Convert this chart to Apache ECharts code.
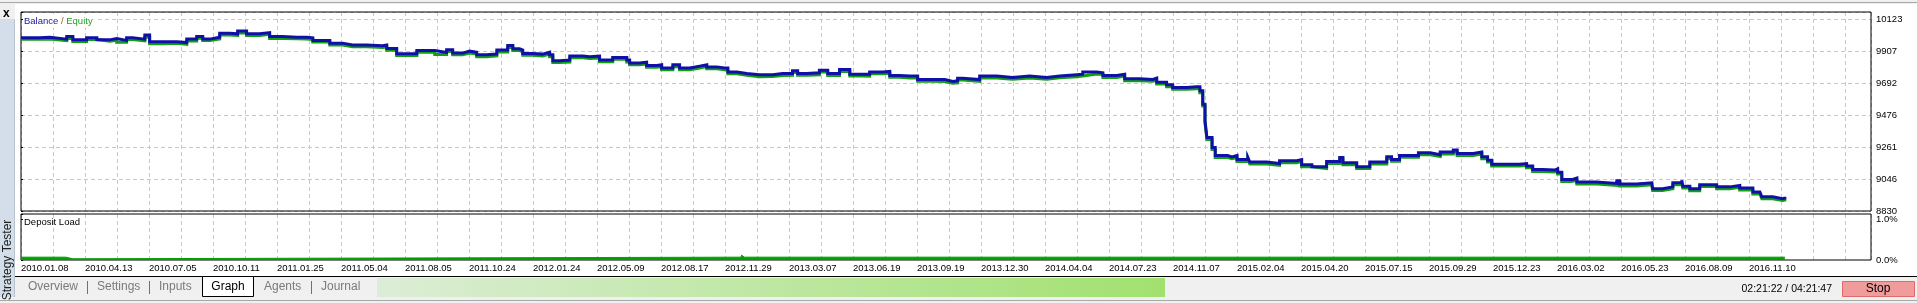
<!DOCTYPE html>
<html><head><meta charset="utf-8">
<script src="https://cdn.jsdelivr.net/npm/echarts@6/dist/echarts.min.js"></script>
<style>html,body{margin:0;padding:0;background:#f0f0f0;overflow:hidden}#c{width:1917px;height:303px}</style>
</head><body><div id="c"></div><script>
const FONT = '"Liberation Sans", Arial, sans-serif';

const dateLabels = ['2010.01.08','2010.04.13','2010.07.05','2010.10.11','2011.01.25','2011.05.04','2011.08.05','2011.10.24',
  '2012.01.24','2012.05.09','2012.08.17','2012.11.29','2013.03.07','2013.06.19','2013.09.19','2013.12.30',
  '2014.04.04','2014.07.23','2014.11.07','2015.02.04','2015.04.20','2015.07.15','2015.09.29','2015.12.23',
  '2016.03.02','2016.05.23','2016.08.09','2016.11.10'];
const yTickLabels = ['8830','9046','9261','9476','9692','9907','10123'];
const loadTickLabels = ['0.0%','1.0%'];

const positions = [
  0.00,0.58,0.90,1.43,1.62,2.05,2.37,2.77,2.99,3.30,
  3.49,3.87,4.02,4.43,4.87,5.18,5.49,5.68,5.90,6.21,
  6.52,6.77,7.05,7.46,7.77,8.18,8.62,8.93,9.12,9.55,
  9.65,10.05,10.36,10.80,11.30,11.43,11.74,12.05,12.37,12.68,
  12.93,13.30,13.49,13.80,14.02,14.24,14.55,14.87,15.21,15.37,
  15.58,15.68,15.99,16.30,16.52,16.62,16.83,17.15,17.56,17.77,
  18.08,18.49,18.93,19.02,19.33,19.55,19.87,20.02,20.37,20.58,
  20.90,21.21,21.43,21.74,21.99,22.09,22.37,22.68,23.08,23.49,
  23.80,24.11,24.27,24.55,24.95,25.21,25.58,25.90,26.30,26.52,
  26.93,27.15,27.46,27.77,28.02,28.49,28.87,29.12,29.27,29.43,
  29.96,30.49,30.99,31.52,32.05,32.46,32.99,33.18,33.62,33.81,
  34.24,34.49,34.96,35.37,35.49,35.80,35.99,36.43,36.74,36.84,
  36.93,37.00,37.06,37.22,37.32,37.71,37.84,38.00,38.34,38.40,
  38.93,39.33,39.87,40.02,40.34,40.80,41.21,41.31,41.74,42.15,
  42.68,42.83,43.08,43.67,44.04,44.35,44.76,44.88,45.38,45.65,
  45.83,45.96,46.30,46.83,47.05,47.24,47.55,47.93,48.02,48.15,
  48.40,48.49,48.62,49.24,49.87,49.96,50.49,50.96,50.99,51.30,
  51.62,51.90,51.93,52.15,52.46,52.99,53.40,53.71,54.02,54.12,
  54.34,54.40,54.74,55.05,55.12];

const balance = [
  10002,10006,9993,10010,9988,10002,9988,9997,9984,10002,
  9993,10020,9975,9975,9970,9993,10010,9993,10006,10033,
  10029,10047,10029,10037,10010,10006,10006,10002,9984,9984,
  9966,9953,9953,9948,9953,9930,9894,9894,9916,9916,
  9903,9921,9899,9912,9904,9887,9892,9919,9950,9928,
  9919,9896,9892,9905,9887,9847,9852,9879,9874,9879,
  9852,9869,9852,9833,9838,9815,9820,9798,9820,9798,
  9811,9820,9806,9798,9798,9771,9761,9753,9753,9761,
  9761,9780,9761,9766,9784,9761,9788,9757,9757,9771,
  9775,9748,9744,9744,9721,9721,9708,9712,9730,9721,
  9744,9734,9744,9734,9744,9753,9757,9771,9766,9748,
  9757,9726,9721,9730,9703,9685,9667,9672,9672,9645,
  9555,9443,9330,9263,9209,9200,9209,9182,9196,9165,
  9155,9174,9182,9147,9133,9169,9196,9160,9133,9165,
  9200,9182,9209,9227,9214,9232,9246,9223,9232,9200,
  9178,9151,9151,9155,9138,9115,9111,9120,9097,9048,
  9048,9057,9030,9021,9039,9017,9025,9025,8985,8998,
  9025,9043,9003,8985,9012,8998,9007,8990,8990,8963,
  8967,8931,8918,8922,8931];

const equity = [
  9992,9994,9983,9998,9977,9991,9978,9986,9972,9990,
  9982,10006,9962,9965,9958,9981,9999,9983,9994,10020,
  10018,10034,10018,10025,9998,9995,9993,9990,9973,9972,
  9954,9941,9942,9936,9940,9918,9882,9883,9904,9905,
  9890,9909,9887,9900,9892,9874,9880,9907,9937,9916,
  9908,9884,9880,9893,9875,9835,9839,9867,9862,9866,
  9840,9857,9839,9821,9826,9803,9808,9786,9807,9786,
  9799,9808,9793,9786,9785,9759,9749,9740,9741,9748,
  9750,9768,9749,9753,9772,9748,9775,9745,9744,9759,
  9763,9736,9731,9732,9709,9708,9696,9699,9718,9709,
  9731,9722,9731,9722,9732,9740,9745,9758,9754,9735,
  9745,9713,9709,9717,9691,9672,9655,9659,9660,9632,
  9542,9430,9317,9250,9195,9188,9196,9169,9184,9152,
  9143,9161,9170,9134,9121,9156,9184,9147,9121,9152,
  9187,9170,9197,9214,9202,9219,9234,9210,9220,9187,
  9166,9138,9139,9142,9126,9102,9099,9107,9085,9035,
  9036,9044,9018,9008,9027,9004,9013,9012,8973,8985,
  9013,9030,8991,8972,9000,8985,8995,8977,8978,8950,
  8955,8918,8906,8909,8919];

const loadPositions = [0, 1.40, 1.41, 1.62, 1.63, 22.50, 22.52, 22.58, 22.60, 55.12];
const depositLoad   = [0.07, 0.07, 0.03, 0.03, 0.07, 0.07, 0.12, 0.12, 0.07, 0.07];

const Y_STEP = 215.5;
const Y_MIN = 41 * Y_STEP;               // 8835.5, multiple of the step
const Y_MAX = Y_MIN + 6 * Y_STEP * 199 / 192;
const X_MAX = 1850 / 32;
const L_MAX = 46 / 40.5;

const dashed = { color: '#c8c8c8', type: [4, 3], width: 1 };

const chart = echarts.init(document.getElementById('c'), null, { renderer: 'canvas', width: 1917, height: 303 });

const option = {
  animation: false,
  textStyle: { fontFamily: FONT },
  grid: [
    { left: 21, top: 12, width: 1850, height: 199, show: true, borderColor: '#000', borderWidth: 1, backgroundColor: 'transparent', z: 1 },
    { left: 21, top: 214, width: 1850, height: 46, show: true, borderColor: '#000', borderWidth: 1, backgroundColor: 'transparent', z: 1 }
  ],
  xAxis: [
    { gridIndex: 0, type: 'value', min: 0, max: X_MAX, interval: 1,
      axisLine: { show: false }, axisTick: { show: false }, axisLabel: { show: false },
      splitLine: { show: true, lineStyle: dashed } },
    { gridIndex: 1, type: 'value', min: 0, max: X_MAX, interval: 1,
      axisLine: { show: false }, axisTick: { show: false },
      axisLabel: { show: true, align: 'left', margin: 3, fontSize: 9.5, color: '#000', fontFamily: FONT,
        showMaxLabel: false,
        formatter: v => (Number.isInteger(v) && v % 2 === 0) ? (dateLabels[v / 2] || '') : '' },
      splitLine: { show: true, lineStyle: dashed } }
  ],
  yAxis: [
    { gridIndex: 0, type: 'value', position: 'right', min: Y_MIN, max: Y_MAX, interval: Y_STEP,
      axisLine: { show: false },
      axisTick: { show: true, length: 2, lineStyle: { color: '#000' } },
      axisLabel: { show: true, margin: 5, fontSize: 9.5, color: '#000', fontFamily: FONT,
        formatter: v => { const i = Math.round((v - Y_MIN) / Y_STEP); return Math.abs(v - (Y_MIN + i * Y_STEP)) < 0.01 ? (yTickLabels[i] || '') : ''; } },
      splitLine: { show: true, lineStyle: dashed } },
    { gridIndex: 1, type: 'value', position: 'right', min: 0, max: L_MAX, interval: 1,
      axisLine: { show: false },
      axisTick: { show: true, length: 2, lineStyle: { color: '#000' } },
      axisLabel: { show: true, margin: 5, fontSize: 9.5, color: '#000', fontFamily: FONT,
        formatter: v => (v === 0 || v === 1) ? loadTickLabels[v] : '' },
      splitLine: { show: false } }
  ],
  series: [
    { type: 'line', name: 'Equity', xAxisIndex: 0, yAxisIndex: 0, symbol: 'none', z: 3, step: 'end',
      data: positions.map((p, i) => [p, equity[i]]),
      lineStyle: { color: '#10a010', width: 3, join: 'miter' } },
    { type: 'line', name: 'Balance', xAxisIndex: 0, yAxisIndex: 0, symbol: 'none', z: 4, step: 'end',
      data: positions.map((p, i) => [p, balance[i]]),
      lineStyle: { color: '#1010a8', width: 3, join: 'miter' } },
    { type: 'line', name: 'Deposit Load', xAxisIndex: 1, yAxisIndex: 1, symbol: 'none', z: 3,
      data: loadPositions.map((p, i) => [p, depositLoad[i]]),
      lineStyle: { color: '#00a000', width: 1 },
      areaStyle: { color: '#00a000', opacity: 1 } }
  ],
  graphic: [
    { type: 'rect', z: -100, silent: true, shape: { x: 15, y: 4, width: 1902, height: 272 }, style: { fill: '#ffffff' } },
    { type: 'rect', z: -90, silent: true, shape: { x: 0, y: 2, width: 1917, height: 1 }, style: { fill: '#a8a8a8' } },
    { type: 'text', z: 10, x: 3, y: 8, style: { text: 'x', font: 'bold 12px ' + FONT, fill: '#000' } },
    { type: 'rect', z: -90, silent: true, shape: { x: 0, y: 19, width: 14, height: 278 }, style: { fill: '#d3deea' } },
    { type: 'rect', z: -90, silent: true, shape: { x: 14, y: 19, width: 1, height: 278 }, style: { fill: '#b8c2cc' } },
    { type: 'text', z: 10, x: 8, y: 260, rotation: Math.PI / 2,
      style: { text: 'Strategy Tester', font: '12px ' + FONT, fill: '#222', align: 'center', verticalAlign: 'middle' } },
    { type: 'text', z: 10, x: 23, y: 21,
      style: { text: '{b|Balance} {s|/} {e|Equity}', verticalAlign: 'middle', font: '9.5px ' + FONT,
        backgroundColor: '#fff', padding: [2, 2, 2, 1],
        rich: { b: { fill: '#2020a0', font: '9.5px ' + FONT }, s: { fill: '#a06020', font: '9.5px ' + FONT }, e: { fill: '#22a022', font: '9.5px ' + FONT } } } },
    { type: 'text', z: 10, x: 24, y: 222, style: { text: 'Deposit Load', font: '9.5px ' + FONT, fill: '#000', verticalAlign: 'middle' } },
    { type: 'rect', z: 5, silent: true, shape: { x: 15, y: 276, width: 1902, height: 1 }, style: { fill: '#000' } },
    { type: 'rect', z: 5, silent: true, shape: { x: 377, y: 278, width: 788, height: 19 },
      style: { fill: new echarts.graphic.LinearGradient(0, 0, 1, 0, [{ offset: 0, color: '#dcedd6' }, { offset: 1, color: '#a1e16f' }]) } },
    { type: 'rect', z: 6, silent: true, shape: { x: 202.5, y: 276.5, width: 51, height: 20 }, style: { fill: '#fff', stroke: '#000', lineWidth: 1 } },
    { type: 'text', z: 7, x: 228, y: 287, style: { text: 'Graph', font: '12px ' + FONT, fill: '#000', align: 'center', verticalAlign: 'middle' } },
    { type: 'text', z: 7, x: 28, y: 287, style: { text: 'Overview', font: '12px ' + FONT, fill: '#7a7a7a', verticalAlign: 'middle' } },
    { type: 'text', z: 7, x: 97, y: 287, style: { text: 'Settings', font: '12px ' + FONT, fill: '#7a7a7a', verticalAlign: 'middle' } },
    { type: 'text', z: 7, x: 159, y: 287, style: { text: 'Inputs', font: '12px ' + FONT, fill: '#7a7a7a', verticalAlign: 'middle' } },
    { type: 'text', z: 7, x: 264, y: 287, style: { text: 'Agents', font: '12px ' + FONT, fill: '#7a7a7a', verticalAlign: 'middle' } },
    { type: 'text', z: 7, x: 321, y: 287, style: { text: 'Journal', font: '12px ' + FONT, fill: '#7a7a7a', verticalAlign: 'middle' } },
    { type: 'rect', z: 7, silent: true, shape: { x: 87, y: 281, width: 1, height: 13 }, style: { fill: '#707070' } },
    { type: 'rect', z: 7, silent: true, shape: { x: 149, y: 281, width: 1, height: 13 }, style: { fill: '#707070' } },
    { type: 'rect', z: 7, silent: true, shape: { x: 311, y: 281, width: 1, height: 13 }, style: { fill: '#707070' } },
    { type: 'text', z: 7, x: 1832, y: 289, style: { text: '02:21:22 / 04:21:47', font: '10.5px ' + FONT, fill: '#000', align: 'right', verticalAlign: 'middle' } },
    { type: 'rect', z: 6, silent: true, shape: { x: 1842.5, y: 281.5, width: 72, height: 15 }, style: { fill: '#f09c9c', stroke: '#e06a6a', lineWidth: 1 } },
    { type: 'text', z: 7, x: 1878, y: 289, style: { text: 'Stop', font: '12px ' + FONT, fill: '#000', align: 'center', verticalAlign: 'middle' } },
    { type: 'rect', z: 5, silent: true, shape: { x: 0, y: 300, width: 1917, height: 1 }, style: { fill: '#a8a8a8' } }
  ]
};
chart.setOption(option);
</script></body></html>
